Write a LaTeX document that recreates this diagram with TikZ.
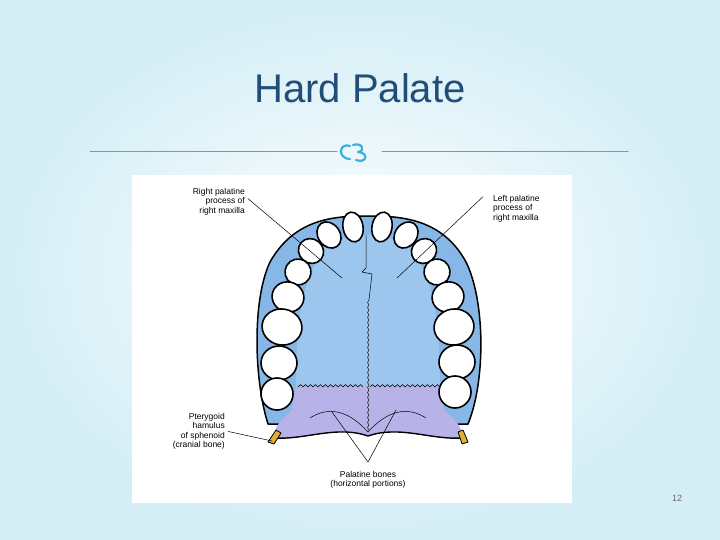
\documentclass[tikz,border=0pt]{standalone}
\usepackage{fontspec}
\setmainfont{Liberation Sans}
\usetikzlibrary{positioning}
\definecolor{titleblue}{HTML}{1F4E79}
\definecolor{rule}{HTML}{3BB0D8}
\definecolor{palblue}{HTML}{9CC6EE}
\definecolor{archblue}{HTML}{86B7E6}
\definecolor{palpurple}{HTML}{B7B2E8}
\definecolor{hamulus}{HTML}{E0B030}
\tikzset{
  tooth/.style={draw=black,line width=1.6pt,fill=white},
  lbl/.style={font=\fontsize{8.5}{9.5}\selectfont,inner sep=1pt},
  pointer/.style={line width=0.5pt}
}
\begin{document}
\begin{tikzpicture}[x=1pt,y=-1pt,line cap=round,line join=round]
\useasboundingbox (0,0) rectangle (720,540);
\shade[inner color=white,outer color=rule!22] (0,0) rectangle (720,540);
% title
\node[text=titleblue,font=\fontsize{40}{44}\selectfont] (title) at (360,88) {Hard Palate};
\draw[rule,line width=1pt] (90,152) -- (337,152);
\draw[rule,line width=1pt] (382,152) -- (628,152);
\draw[rule,line width=2.2pt] (350,146) .. controls (340,142) and (336,158) .. (350,159)
  (353,145) .. controls (362,142) and (366,151) .. (358,152)
  .. controls (370,153) and (366,164) .. (356,160);
% picture
\fill[white] (132,175) rectangle (572,503);
% outer arch
\draw[fill=archblue,line width=1.5pt] (268,424) .. controls (254,380) and (252,300) .. (270,262)
  .. controls (295,218) and (335,216) .. (368,216) .. controls (400,216) and (442,218) .. (466,262)
  .. controls (485,300) and (486,380) .. (468,424) -- cycle;
% palatine processes
\fill[palblue] (296,385) .. controls (296,320) and (303,270) .. (330,243)
  .. controls (350,233) and (385,233) .. (405,243) .. controls (433,270) and (440,320) .. (440,385) -- cycle;
% palatine bones
\fill[palpurple] (296,385) -- (440,385) -- (444,410) .. controls (455,420) and (462,425) .. (462,438)
  .. controls (430,440) and (400,425) .. (368,436) .. controls (336,425) and (306,440) .. (274,438)
  .. controls (274,425) and (282,420) .. (292,410) -- cycle;
\draw[line width=1.4pt] (274,438) .. controls (306,440) and (336,425) .. (368,436)
  .. controls (400,425) and (430,440) .. (462,438);
% sutures
\draw[line width=0.5pt] (366,236) -- (366,268) -- (362,272) -- (372,274) -- (369,300);
\draw[line width=0.5pt] (369,300) \foreach \i in {1,...,26} {-- ++(-1.5,2.5) -- ++(1.5,2.5)};
\draw[line width=0.5pt] (298,387) \foreach \i in {1,...,13} {-- ++(2.5,-2.5) -- ++(2.5,2.5)};
\draw[line width=0.5pt] (370,387) \foreach \i in {1,...,14} {-- ++(2.5,-2.5) -- ++(2.5,2.5)};
\draw[line width=0.5pt] (310,418) .. controls (330,405) and (350,412) .. (368,432)
  .. controls (386,412) and (406,405) .. (426,418);
% hamulus
\fill[hamulus,draw=black,line width=0.8pt] (276,430) -- (281,433) -- (274,444) -- (268,442) -- cycle;
\fill[hamulus,draw=black,line width=0.8pt] (458,432) -- (463,430) -- (468,442) -- (462,444) -- cycle;
% teeth, left then right
\foreach \x/\y/\a/\b/\r in {353/227/10/15/10, 329/235/11/14/35, 311/251/12/13/50, 298/272/13/13/60,
    288/297/15/16/70, 282/327/18/20/80, 279/363/17/18/90, 277/394/16/16/90}
  \draw[tooth,rotate around={\r:(\x,\y)}] (\x,\y) ellipse ({\a} and {\b});
\foreach \x/\y/\a/\b/\r in {382/227/10/15/-10, 406/235/11/14/-35, 424/251/12/13/-50, 437/272/13/13/-60,
    448/297/15/16/-70, 454/327/18/20/-80, 457/362/17/18/-90, 455/392/16/16/-90}
  \draw[tooth,rotate around={\r:(\x,\y)}] (\x,\y) ellipse ({\a} and {\b});
% labels
\node[lbl,align=right,anchor=north east] (rpp) at (246,187) {Right palatine\\process of\\right maxilla};
\node[lbl,align=left,anchor=north west] (lpp) at (492,194) {Left palatine\\process of\\right maxilla};
\node[lbl,align=right,anchor=north east] (pter) at (226,412) {Pterygoid\\hamulus\\of sphenoid\\(cranial bone)};
\node[lbl,align=center,anchor=north] (pal) at (368,470) {Palatine bones\\(horizontal portions)};
\coordinate (rppend) at (342,278);
\coordinate (lppend) at (397,278);
\coordinate (pterend) at (272,441);
\coordinate (apex) at (368,462);
\coordinate (palL) at (332,412);
\coordinate (palR) at (396,410);
\draw[pointer] (rpp.east) ++(2,-3) -- (rppend);
\draw[pointer] (lpp.west) ++(-9,-12) -- (lppend);
\draw[pointer] (pter.east) ++(2,0) -- (pterend);
\draw[pointer] (palL) -- (apex) -- (palR);
\node[text=black!60,font=\small] (page) at (677,498) {12};
\end{tikzpicture}
\end{document}
